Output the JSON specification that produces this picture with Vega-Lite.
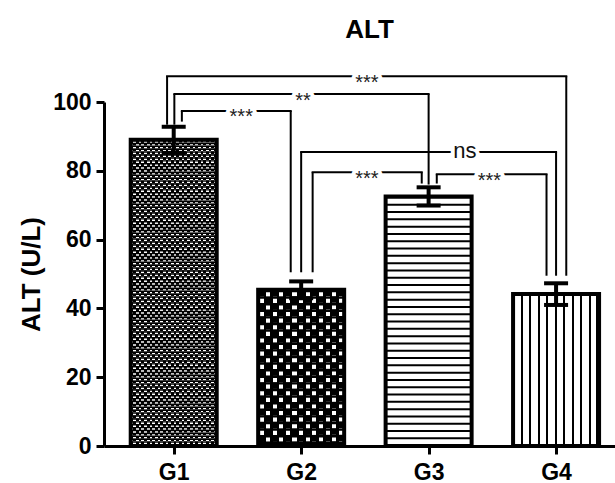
{
 "$schema": "https://vega.github.io/schema/vega-lite/v6.json",
 "width": 511,
 "height": 344,
 "autosize": {"type": "none"},
 "padding": {"left": 104, "top": 102, "right": 0, "bottom": 37},
 "background": "white",
 "title": {"text": "ALT", "fontSize": 26, "fontWeight": "bold", "font": "Liberation Sans", "color": "black", "frame": "group", "anchor": "middle", "dx": 10, "offset": 30},
 "datasets": {
  "bars": [
   {"group": "G1", "pos": 1, "mean": 89.0, "sem": 3.8},
   {"group": "G2", "pos": 2, "mean": 45.4, "sem": 2.45},
   {"group": "G3", "pos": 3, "mean": 72.55, "sem": 2.65},
   {"group": "G4", "pos": 4, "mean": 44.15, "sem": 3.15}
  ],
  "brackets": [
   {"pair": "G1 vs G2", "x1": 1.064, "x2": 1.918, "y": 97.4, "b1": 94.3, "b2": 50.5, "label": "***", "lx": 1.53},
   {"pair": "G1 vs G3", "x1": 1.005, "x2": 3.0, "y": 102.3, "b1": 93.4, "b2": 76.0, "label": "**", "lx": 2.015},
   {"pair": "G1 vs G4", "x1": 0.948, "x2": 4.08, "y": 107.5, "b1": 93.4, "b2": 49.5, "label": "***", "lx": 2.515},
   {"pair": "G2 vs G3", "x1": 2.09, "x2": 2.946, "y": 79.6, "b1": 50.5, "b2": 76.3, "label": "***", "lx": 2.515},
   {"pair": "G2 vs G4", "x1": 2.0, "x2": 4.0, "y": 85.5, "b1": 50.5, "b2": 49.5, "label": "ns", "lx": 3.285},
   {"pair": "G3 vs G4", "x1": 3.064, "x2": 3.925, "y": 79.0, "b1": 76.3, "b2": 49.5, "label": "***", "lx": 3.477}
  ]
 },
 "layer": [
  {
   "data": {"name": "bars"},
   "mark": {"type": "bar", "orient": "vertical", "size": 86, "fill": "white"},
   "encoding": {
    "x": {"field": "pos", "type": "quantitative", "scale": {"domain": [0.4923, 4.4231], "nice": false, "zero": false}, "title": null, "axis": {"values": [1, 2, 3, 4], "labelExpr": "'G' + datum.value"}},
    "y": {"field": "mean", "type": "quantitative", "scale": {"domain": [0, 100], "nice": false}, "title": "ALT (U/L)", "axis": {"values": [0, 20, 40, 60, 80, 100]}}
   }
  },
  {
   "data": {"name": "bars"},
   "transform": [{"filter": "datum.group == 'G1'"}],
   "mark": {"type": "bar", "orient": "vertical", "size": 86,
    "fill": {"gradient": "linear", "x1": 0, "y1": 0, "x2": 1, "y2": 0, "stops": [
     {"offset": 0, "color": "#ffffff"}, {"offset": 0.03125, "color": "#ffffff"}, {"offset": 0.03125, "color": "#000000"}, {"offset": 0.0625, "color": "#000000"},
     {"offset": 0.0625, "color": "#ffffff"}, {"offset": 0.09375, "color": "#ffffff"}, {"offset": 0.09375, "color": "#000000"}, {"offset": 0.125, "color": "#000000"},
     {"offset": 0.125, "color": "#ffffff"}, {"offset": 0.15625, "color": "#ffffff"}, {"offset": 0.15625, "color": "#000000"}, {"offset": 0.1875, "color": "#000000"},
     {"offset": 0.1875, "color": "#ffffff"}, {"offset": 0.21875, "color": "#ffffff"}, {"offset": 0.21875, "color": "#000000"}, {"offset": 0.25, "color": "#000000"},
     {"offset": 0.25, "color": "#ffffff"}, {"offset": 0.28125, "color": "#ffffff"}, {"offset": 0.28125, "color": "#000000"}, {"offset": 0.3125, "color": "#000000"},
     {"offset": 0.3125, "color": "#ffffff"}, {"offset": 0.34375, "color": "#ffffff"}, {"offset": 0.34375, "color": "#000000"}, {"offset": 0.375, "color": "#000000"},
     {"offset": 0.375, "color": "#ffffff"}, {"offset": 0.40625, "color": "#ffffff"}, {"offset": 0.40625, "color": "#000000"}, {"offset": 0.4375, "color": "#000000"},
     {"offset": 0.4375, "color": "#ffffff"}, {"offset": 0.46875, "color": "#ffffff"}, {"offset": 0.46875, "color": "#000000"}, {"offset": 0.5, "color": "#000000"},
     {"offset": 0.5, "color": "#ffffff"}, {"offset": 0.53125, "color": "#ffffff"}, {"offset": 0.53125, "color": "#000000"}, {"offset": 0.5625, "color": "#000000"},
     {"offset": 0.5625, "color": "#ffffff"}, {"offset": 0.59375, "color": "#ffffff"}, {"offset": 0.59375, "color": "#000000"}, {"offset": 0.625, "color": "#000000"},
     {"offset": 0.625, "color": "#ffffff"}, {"offset": 0.65625, "color": "#ffffff"}, {"offset": 0.65625, "color": "#000000"}, {"offset": 0.6875, "color": "#000000"},
     {"offset": 0.6875, "color": "#ffffff"}, {"offset": 0.71875, "color": "#ffffff"}, {"offset": 0.71875, "color": "#000000"}, {"offset": 0.75, "color": "#000000"},
     {"offset": 0.75, "color": "#ffffff"}, {"offset": 0.78125, "color": "#ffffff"}, {"offset": 0.78125, "color": "#000000"}, {"offset": 0.8125, "color": "#000000"},
     {"offset": 0.8125, "color": "#ffffff"}, {"offset": 0.84375, "color": "#ffffff"}, {"offset": 0.84375, "color": "#000000"}, {"offset": 0.875, "color": "#000000"},
     {"offset": 0.875, "color": "#ffffff"}, {"offset": 0.90625, "color": "#ffffff"}, {"offset": 0.90625, "color": "#000000"}, {"offset": 0.9375, "color": "#000000"},
     {"offset": 0.9375, "color": "#ffffff"}, {"offset": 0.96875, "color": "#ffffff"}, {"offset": 0.96875, "color": "#000000"}, {"offset": 1, "color": "#000000"}
    ]}},
   "encoding": {
    "x": {"field": "pos", "type": "quantitative", "scale": {"domain": [0.4923, 4.4231], "nice": false, "zero": false}, "title": null},
    "y": {"field": "mean", "type": "quantitative", "scale": {"domain": [0, 100], "nice": false}, "title": "ALT (U/L)"}
   }
  },
  {
   "data": {"name": "bars"},
   "transform": [{"filter": "datum.group == 'G2'"}],
   "mark": {"type": "bar", "orient": "vertical", "size": 86,
    "fill": {"gradient": "linear", "x1": 0, "y1": 0, "x2": 1, "y2": 0, "stops": [
     {"offset": 0, "color": "#ffffff"}, {"offset": 0.0769, "color": "#ffffff"}, {"offset": 0.0769, "color": "#000000"}, {"offset": 0.1538, "color": "#000000"},
     {"offset": 0.1538, "color": "#ffffff"}, {"offset": 0.2308, "color": "#ffffff"}, {"offset": 0.2308, "color": "#000000"}, {"offset": 0.3077, "color": "#000000"},
     {"offset": 0.3077, "color": "#ffffff"}, {"offset": 0.3846, "color": "#ffffff"}, {"offset": 0.3846, "color": "#000000"}, {"offset": 0.4615, "color": "#000000"},
     {"offset": 0.4615, "color": "#ffffff"}, {"offset": 0.5385, "color": "#ffffff"}, {"offset": 0.5385, "color": "#000000"}, {"offset": 0.6154, "color": "#000000"},
     {"offset": 0.6154, "color": "#ffffff"}, {"offset": 0.6923, "color": "#ffffff"}, {"offset": 0.6923, "color": "#000000"}, {"offset": 0.7692, "color": "#000000"},
     {"offset": 0.7692, "color": "#ffffff"}, {"offset": 0.8462, "color": "#ffffff"}, {"offset": 0.8462, "color": "#000000"}, {"offset": 0.9231, "color": "#000000"},
     {"offset": 0.9231, "color": "#ffffff"}, {"offset": 1, "color": "#ffffff"}
    ]}},
   "encoding": {
    "x": {"field": "pos", "type": "quantitative", "scale": {"domain": [0.4923, 4.4231], "nice": false, "zero": false}, "title": null},
    "y": {"field": "mean", "type": "quantitative", "scale": {"domain": [0, 100], "nice": false}, "title": "ALT (U/L)"}
   }
  },
  {
   "data": {"name": "bars"},
   "transform": [{"filter": "datum.group == 'G1'"}],
   "mark": {"type": "rule", "strokeWidth": 86, "strokeCap": "butt", "strokeDash": [2.9, 2.9], "x2Offset": 1,
    "stroke": {"gradient": "linear", "x1": -43, "y1": 0, "x2": 43, "y2": 0, "stops": [
     {"offset": 0, "color": "#000000"}, {"offset": 0.03125, "color": "#000000"}, {"offset": 0.03125, "color": "#ffffff"}, {"offset": 0.0625, "color": "#ffffff"},
     {"offset": 0.0625, "color": "#000000"}, {"offset": 0.09375, "color": "#000000"}, {"offset": 0.09375, "color": "#ffffff"}, {"offset": 0.125, "color": "#ffffff"},
     {"offset": 0.125, "color": "#000000"}, {"offset": 0.15625, "color": "#000000"}, {"offset": 0.15625, "color": "#ffffff"}, {"offset": 0.1875, "color": "#ffffff"},
     {"offset": 0.1875, "color": "#000000"}, {"offset": 0.21875, "color": "#000000"}, {"offset": 0.21875, "color": "#ffffff"}, {"offset": 0.25, "color": "#ffffff"},
     {"offset": 0.25, "color": "#000000"}, {"offset": 0.28125, "color": "#000000"}, {"offset": 0.28125, "color": "#ffffff"}, {"offset": 0.3125, "color": "#ffffff"},
     {"offset": 0.3125, "color": "#000000"}, {"offset": 0.34375, "color": "#000000"}, {"offset": 0.34375, "color": "#ffffff"}, {"offset": 0.375, "color": "#ffffff"},
     {"offset": 0.375, "color": "#000000"}, {"offset": 0.40625, "color": "#000000"}, {"offset": 0.40625, "color": "#ffffff"}, {"offset": 0.4375, "color": "#ffffff"},
     {"offset": 0.4375, "color": "#000000"}, {"offset": 0.46875, "color": "#000000"}, {"offset": 0.46875, "color": "#ffffff"}, {"offset": 0.5, "color": "#ffffff"},
     {"offset": 0.5, "color": "#000000"}, {"offset": 0.53125, "color": "#000000"}, {"offset": 0.53125, "color": "#ffffff"}, {"offset": 0.5625, "color": "#ffffff"},
     {"offset": 0.5625, "color": "#000000"}, {"offset": 0.59375, "color": "#000000"}, {"offset": 0.59375, "color": "#ffffff"}, {"offset": 0.625, "color": "#ffffff"},
     {"offset": 0.625, "color": "#000000"}, {"offset": 0.65625, "color": "#000000"}, {"offset": 0.65625, "color": "#ffffff"}, {"offset": 0.6875, "color": "#ffffff"},
     {"offset": 0.6875, "color": "#000000"}, {"offset": 0.71875, "color": "#000000"}, {"offset": 0.71875, "color": "#ffffff"}, {"offset": 0.75, "color": "#ffffff"},
     {"offset": 0.75, "color": "#000000"}, {"offset": 0.78125, "color": "#000000"}, {"offset": 0.78125, "color": "#ffffff"}, {"offset": 0.8125, "color": "#ffffff"},
     {"offset": 0.8125, "color": "#000000"}, {"offset": 0.84375, "color": "#000000"}, {"offset": 0.84375, "color": "#ffffff"}, {"offset": 0.875, "color": "#ffffff"},
     {"offset": 0.875, "color": "#000000"}, {"offset": 0.90625, "color": "#000000"}, {"offset": 0.90625, "color": "#ffffff"}, {"offset": 0.9375, "color": "#ffffff"},
     {"offset": 0.9375, "color": "#000000"}, {"offset": 0.96875, "color": "#000000"}, {"offset": 0.96875, "color": "#ffffff"}, {"offset": 1, "color": "#ffffff"}
    ]}},
   "encoding": {
    "x": {"field": "pos", "type": "quantitative", "scale": {"domain": [0.4923, 4.4231], "nice": false, "zero": false}, "title": null},
    "x2": {"field": "pos"},
    "y": {"field": "mean", "type": "quantitative", "scale": {"domain": [0, 100], "nice": false}, "title": "ALT (U/L)"},
    "y2": {"datum": 0}
   }
  },
  {
   "data": {"name": "bars"},
   "transform": [{"filter": "datum.group == 'G2'"}],
   "mark": {"type": "rule", "strokeWidth": 86, "strokeCap": "butt", "strokeDash": [6.6, 6.6], "x2Offset": 1,
    "stroke": {"gradient": "linear", "x1": -43, "y1": 0, "x2": 43, "y2": 0, "stops": [
     {"offset": 0, "color": "#000000"}, {"offset": 0.0769, "color": "#000000"}, {"offset": 0.0769, "color": "#ffffff"}, {"offset": 0.1538, "color": "#ffffff"},
     {"offset": 0.1538, "color": "#000000"}, {"offset": 0.2308, "color": "#000000"}, {"offset": 0.2308, "color": "#ffffff"}, {"offset": 0.3077, "color": "#ffffff"},
     {"offset": 0.3077, "color": "#000000"}, {"offset": 0.3846, "color": "#000000"}, {"offset": 0.3846, "color": "#ffffff"}, {"offset": 0.4615, "color": "#ffffff"},
     {"offset": 0.4615, "color": "#000000"}, {"offset": 0.5385, "color": "#000000"}, {"offset": 0.5385, "color": "#ffffff"}, {"offset": 0.6154, "color": "#ffffff"},
     {"offset": 0.6154, "color": "#000000"}, {"offset": 0.6923, "color": "#000000"}, {"offset": 0.6923, "color": "#ffffff"}, {"offset": 0.7692, "color": "#ffffff"},
     {"offset": 0.7692, "color": "#000000"}, {"offset": 0.8462, "color": "#000000"}, {"offset": 0.8462, "color": "#ffffff"}, {"offset": 0.9231, "color": "#ffffff"},
     {"offset": 0.9231, "color": "#000000"}, {"offset": 1, "color": "#000000"}
    ]}},
   "encoding": {
    "x": {"field": "pos", "type": "quantitative", "scale": {"domain": [0.4923, 4.4231], "nice": false, "zero": false}, "title": null},
    "x2": {"field": "pos"},
    "y": {"field": "mean", "type": "quantitative", "scale": {"domain": [0, 100], "nice": false}, "title": "ALT (U/L)"},
    "y2": {"datum": 0}
   }
  },
  {
   "data": {"name": "bars"},
   "transform": [{"filter": "datum.group == 'G3'"}],
   "mark": {"type": "rule", "strokeWidth": 86, "color": "black", "strokeCap": "butt", "strokeDash": [2, 5.3]},
   "encoding": {
    "x": {"field": "pos", "type": "quantitative", "scale": {"domain": [0.4923, 4.4231], "nice": false, "zero": false}, "title": null},
    "y": {"field": "mean", "type": "quantitative", "scale": {"domain": [0, 100], "nice": false}, "title": "ALT (U/L)"},
    "y2": {"datum": 0}
   }
  },
  {
   "data": {"name": "bars"},
   "transform": [{"filter": "datum.group == 'G1' || datum.group == 'G2'"}],
   "mark": {"type": "rule", "strokeWidth": 86, "color": "black", "strokeCap": "butt"},
   "encoding": {
    "x": {"field": "pos", "type": "quantitative", "scale": {"domain": [0.4923, 4.4231], "nice": false, "zero": false}, "title": null},
    "y": {"field": "mean", "type": "quantitative", "scale": {"domain": [0, 100], "nice": false}, "title": "ALT (U/L)"},
    "y2": {"datum": 0},
    "strokeDash": {"field": "group", "type": "nominal", "scale": {"domain": ["G1", "G2"], "range": [[1.4, 1.5], [2.4, 4.2]]}, "legend": null}
   }
  },
  {
   "data": {"name": "bars"},
   "transform": [{"filter": "datum.group == 'G2'"}],
   "mark": {"type": "bar", "orient": "vertical", "size": 86,
    "fill": {"gradient": "linear", "x1": 0, "y1": 0, "x2": 1, "y2": 0, "stops": [
     {"offset": 0, "color": "rgba(0,0,0,0)"}, {"offset": 0.063, "color": "rgba(0,0,0,0)"}, {"offset": 0.063, "color": "#000000"}, {"offset": 0.0909, "color": "#000000"},
     {"offset": 0.0909, "color": "rgba(0,0,0,0)"}, {"offset": 0.1399, "color": "rgba(0,0,0,0)"}, {"offset": 0.1399, "color": "#000000"}, {"offset": 0.1678, "color": "#000000"},
     {"offset": 0.1678, "color": "rgba(0,0,0,0)"}, {"offset": 0.2168, "color": "rgba(0,0,0,0)"}, {"offset": 0.2168, "color": "#000000"}, {"offset": 0.2447, "color": "#000000"},
     {"offset": 0.2447, "color": "rgba(0,0,0,0)"}, {"offset": 0.2937, "color": "rgba(0,0,0,0)"}, {"offset": 0.2937, "color": "#000000"}, {"offset": 0.3216, "color": "#000000"},
     {"offset": 0.3216, "color": "rgba(0,0,0,0)"}, {"offset": 0.3707, "color": "rgba(0,0,0,0)"}, {"offset": 0.3707, "color": "#000000"}, {"offset": 0.3986, "color": "#000000"},
     {"offset": 0.3986, "color": "rgba(0,0,0,0)"}, {"offset": 0.4476, "color": "rgba(0,0,0,0)"}, {"offset": 0.4476, "color": "#000000"}, {"offset": 0.4755, "color": "#000000"},
     {"offset": 0.4755, "color": "rgba(0,0,0,0)"}, {"offset": 0.5245, "color": "rgba(0,0,0,0)"}, {"offset": 0.5245, "color": "#000000"}, {"offset": 0.5524, "color": "#000000"},
     {"offset": 0.5524, "color": "rgba(0,0,0,0)"}, {"offset": 0.6014, "color": "rgba(0,0,0,0)"}, {"offset": 0.6014, "color": "#000000"}, {"offset": 0.6293, "color": "#000000"},
     {"offset": 0.6293, "color": "rgba(0,0,0,0)"}, {"offset": 0.6783, "color": "rgba(0,0,0,0)"}, {"offset": 0.6783, "color": "#000000"}, {"offset": 0.7063, "color": "#000000"},
     {"offset": 0.7063, "color": "rgba(0,0,0,0)"}, {"offset": 0.7553, "color": "rgba(0,0,0,0)"}, {"offset": 0.7553, "color": "#000000"}, {"offset": 0.7832, "color": "#000000"},
     {"offset": 0.7832, "color": "rgba(0,0,0,0)"}, {"offset": 0.8322, "color": "rgba(0,0,0,0)"}, {"offset": 0.8322, "color": "#000000"}, {"offset": 0.8601, "color": "#000000"},
     {"offset": 0.8601, "color": "rgba(0,0,0,0)"}, {"offset": 0.9091, "color": "rgba(0,0,0,0)"}, {"offset": 0.9091, "color": "#000000"}, {"offset": 0.937, "color": "#000000"},
     {"offset": 0.937, "color": "rgba(0,0,0,0)"}, {"offset": 1, "color": "rgba(0,0,0,0)"}
    ]}},
   "encoding": {
    "x": {"field": "pos", "type": "quantitative", "scale": {"domain": [0.4923, 4.4231], "nice": false, "zero": false}, "title": null},
    "y": {"field": "mean", "type": "quantitative", "scale": {"domain": [0, 100], "nice": false}, "title": "ALT (U/L)"}
   }
  },
  {
   "data": {"name": "bars"},
   "transform": [{"filter": "datum.group == 'G4'"}],
   "mark": {"type": "bar", "orient": "vertical", "size": 86,
    "fill": {"gradient": "linear", "x1": 0, "y1": 0, "x2": 1, "y2": 0, "stops": [
     {"offset": 0, "color": "rgba(0,0,0,0)"}, {"offset": 0.0872, "color": "rgba(0,0,0,0)"}, {"offset": 0.0872, "color": "#000000"}, {"offset": 0.1105, "color": "#000000"},
     {"offset": 0.1105, "color": "rgba(0,0,0,0)"}, {"offset": 0.186, "color": "rgba(0,0,0,0)"}, {"offset": 0.186, "color": "#000000"}, {"offset": 0.2093, "color": "#000000"},
     {"offset": 0.2093, "color": "rgba(0,0,0,0)"}, {"offset": 0.2849, "color": "rgba(0,0,0,0)"}, {"offset": 0.2849, "color": "#000000"}, {"offset": 0.3081, "color": "#000000"},
     {"offset": 0.3081, "color": "rgba(0,0,0,0)"}, {"offset": 0.3837, "color": "rgba(0,0,0,0)"}, {"offset": 0.3837, "color": "#000000"}, {"offset": 0.407, "color": "#000000"},
     {"offset": 0.407, "color": "rgba(0,0,0,0)"}, {"offset": 0.4826, "color": "rgba(0,0,0,0)"}, {"offset": 0.4826, "color": "#000000"}, {"offset": 0.5058, "color": "#000000"},
     {"offset": 0.5058, "color": "rgba(0,0,0,0)"}, {"offset": 0.5814, "color": "rgba(0,0,0,0)"}, {"offset": 0.5814, "color": "#000000"}, {"offset": 0.6047, "color": "#000000"},
     {"offset": 0.6047, "color": "rgba(0,0,0,0)"}, {"offset": 0.6802, "color": "rgba(0,0,0,0)"}, {"offset": 0.6802, "color": "#000000"}, {"offset": 0.7035, "color": "#000000"},
     {"offset": 0.7035, "color": "rgba(0,0,0,0)"}, {"offset": 0.7791, "color": "rgba(0,0,0,0)"}, {"offset": 0.7791, "color": "#000000"}, {"offset": 0.8023, "color": "#000000"},
     {"offset": 0.8023, "color": "rgba(0,0,0,0)"}, {"offset": 0.8779, "color": "rgba(0,0,0,0)"}, {"offset": 0.8779, "color": "#000000"}, {"offset": 0.9012, "color": "#000000"},
     {"offset": 0.9012, "color": "rgba(0,0,0,0)"}, {"offset": 0.9593, "color": "rgba(0,0,0,0)"}, {"offset": 0.9593, "color": "#000000"}, {"offset": 0.9826, "color": "#000000"},
     {"offset": 0.9826, "color": "rgba(0,0,0,0)"}, {"offset": 1, "color": "rgba(0,0,0,0)"}
    ]}},
   "encoding": {
    "x": {"field": "pos", "type": "quantitative", "scale": {"domain": [0.4923, 4.4231], "nice": false, "zero": false}, "title": null},
    "y": {"field": "mean", "type": "quantitative", "scale": {"domain": [0, 100], "nice": false}, "title": "ALT (U/L)"}
   }
  },
  {
   "data": {"name": "bars"},
   "mark": {"type": "bar", "orient": "vertical", "size": 86, "fill": "white", "fillOpacity": 0, "stroke": "black", "strokeWidth": 4},
   "encoding": {
    "x": {"field": "pos", "type": "quantitative", "scale": {"domain": [0.4923, 4.4231], "nice": false, "zero": false}, "title": null},
    "y": {"field": "mean", "type": "quantitative", "scale": {"domain": [0, 100], "nice": false}, "title": "ALT (U/L)"}
   }
  },
  {
   "data": {"name": "bars"},
   "mark": {"type": "errorbar", "ticks": {"opacity": 1, "color": "black"}, "rule": {"opacity": 1, "color": "black"}, "size": 24, "thickness": 4, "color": "black", "opacity": 1},
   "encoding": {
    "x": {"field": "pos", "type": "quantitative", "scale": {"domain": [0.4923, 4.4231], "nice": false, "zero": false}, "title": null},
    "y": {"field": "mean", "type": "quantitative", "scale": {"domain": [0, 100], "nice": false}, "title": "ALT (U/L)"},
    "yError": {"field": "sem"}
   }
  },
  {
   "data": {"name": "brackets"},
   "mark": {"type": "rule", "strokeWidth": 2, "color": "black"},
   "encoding": {
    "x": {"field": "x1", "type": "quantitative", "scale": {"domain": [0.4923, 4.4231], "nice": false, "zero": false}, "title": null},
    "y": {"field": "y", "type": "quantitative", "scale": {"domain": [0, 100], "nice": false}, "title": "ALT (U/L)"},
    "y2": {"field": "b1"}
   }
  },
  {
   "data": {"name": "brackets"},
   "mark": {"type": "rule", "strokeWidth": 2, "color": "black"},
   "encoding": {
    "x": {"field": "x2", "type": "quantitative", "scale": {"domain": [0.4923, 4.4231], "nice": false, "zero": false}, "title": null},
    "y": {"field": "y", "type": "quantitative", "scale": {"domain": [0, 100], "nice": false}, "title": "ALT (U/L)"},
    "y2": {"field": "b2"}
   }
  },
  {
   "data": {"name": "brackets"},
   "mark": {"type": "rule", "strokeWidth": 2, "color": "black", "strokeCap": "square"},
   "encoding": {
    "x": {"field": "x1", "type": "quantitative", "scale": {"domain": [0.4923, 4.4231], "nice": false, "zero": false}, "title": null},
    "x2": {"field": "x2"},
    "y": {"field": "y", "type": "quantitative", "scale": {"domain": [0, 100], "nice": false}, "title": "ALT (U/L)"}
   }
  },
  {
   "data": {"name": "brackets"},
   "transform": [{"filter": "datum.label != 'ns'"}],
   "mark": {"type": "text", "font": "Liberation Sans", "fontSize": 20, "baseline": "alphabetic", "dy": 12.5, "fill": "white", "stroke": "white", "strokeWidth": 8, "strokeJoin": "round"},
   "encoding": {
    "x": {"field": "lx", "type": "quantitative", "scale": {"domain": [0.4923, 4.4231], "nice": false, "zero": false}, "title": null},
    "y": {"field": "y", "type": "quantitative", "scale": {"domain": [0, 100], "nice": false}, "title": "ALT (U/L)"},
    "text": {"field": "label"}
   }
  },
  {
   "data": {"name": "brackets"},
   "transform": [{"filter": "datum.label != 'ns'"}],
   "mark": {"type": "text", "font": "Liberation Sans", "fontSize": 20, "baseline": "alphabetic", "dy": 12.5, "color": "#222222"},
   "encoding": {
    "x": {"field": "lx", "type": "quantitative", "scale": {"domain": [0.4923, 4.4231], "nice": false, "zero": false}, "title": null},
    "y": {"field": "y", "type": "quantitative", "scale": {"domain": [0, 100], "nice": false}, "title": "ALT (U/L)"},
    "text": {"field": "label"}
   }
  },
  {
   "data": {"name": "brackets"},
   "transform": [{"filter": "datum.label == 'ns'"}],
   "mark": {"type": "text", "font": "Liberation Sans", "fontSize": 22, "baseline": "alphabetic", "dy": 6, "fill": "white", "stroke": "white", "strokeWidth": 8, "strokeJoin": "round"},
   "encoding": {
    "x": {"field": "lx", "type": "quantitative", "scale": {"domain": [0.4923, 4.4231], "nice": false, "zero": false}, "title": null},
    "y": {"field": "y", "type": "quantitative", "scale": {"domain": [0, 100], "nice": false}, "title": "ALT (U/L)"},
    "text": {"field": "label"}
   }
  },
  {
   "data": {"name": "brackets"},
   "transform": [{"filter": "datum.label == 'ns'"}],
   "mark": {"type": "text", "font": "Liberation Sans", "fontSize": 22, "baseline": "alphabetic", "dy": 6, "color": "#111111"},
   "encoding": {
    "x": {"field": "lx", "type": "quantitative", "scale": {"domain": [0.4923, 4.4231], "nice": false, "zero": false}, "title": null},
    "y": {"field": "y", "type": "quantitative", "scale": {"domain": [0, 100], "nice": false}, "title": "ALT (U/L)"},
    "text": {"field": "label"}
   }
  }
 ],
 "config": {
  "view": {"stroke": null},
  "font": "Liberation Sans",
  "axis": {"domainColor": "black", "domainWidth": 3, "tickColor": "black", "tickWidth": 3, "tickSize": 8, "labelFont": "Liberation Sans", "labelFontSize": 23, "labelFontWeight": "bold", "labelColor": "black", "grid": false, "titleFont": "Liberation Sans", "titleFontSize": 23, "titleFontWeight": "bold", "titleColor": "black"},
  "axisY": {"labelPadding": 5, "titlePadding": 8, "titleFontSize": 26},
  "axisX": {"labelPadding": 7, "labelFlush": false}
 }
}
